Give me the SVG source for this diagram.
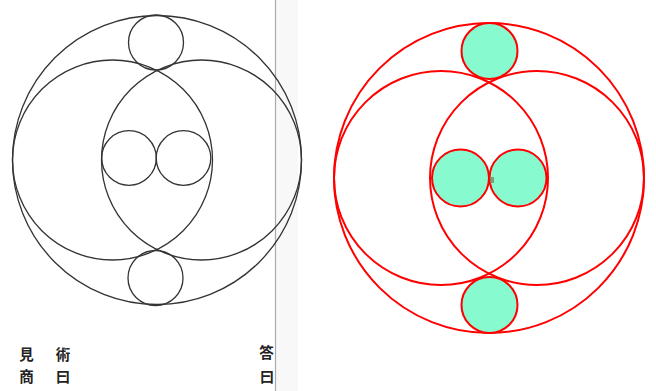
<svg xmlns="http://www.w3.org/2000/svg" width="656" height="391" viewBox="0 0 656 391">
<style>
.ink{fill:none;stroke:#333;stroke-width:1.3}
.red{fill:none;stroke:#ff0000;stroke-width:2}
.redf{fill:#88fad0;stroke:#ff0000;stroke-width:2}
.jp{font-family:"Noto Sans CJK JP","Noto Sans CJK SC",sans-serif;font-size:14.5px;font-weight:bold;fill:#222;text-anchor:middle}
</style>
<rect width="656" height="391" fill="#ffffff"/>
<g id="scan">
<rect x="276" y="0" width="22" height="391" fill="#f8f8f8"/>
<line x1="275.5" y1="0" x2="275.5" y2="391" stroke="#aaaaaa" stroke-width="1.2"/>
<g id="left-outer"><circle class="ink" cx="157" cy="160" r="144.5"/></g>
<g id="left-big-left"><circle class="ink" cx="112.5" cy="160" r="100"/></g>
<g id="left-big-right"><circle class="ink" cx="201.5" cy="160" r="100"/></g>
<g id="left-top"><circle class="ink" cx="156" cy="42.5" r="27.5"/></g>
<g id="left-bottom"><circle class="ink" cx="155.5" cy="278" r="27.5"/></g>
<g id="left-mid-left"><circle class="ink" cx="129" cy="158" r="27.3"/></g>
<g id="left-mid-right"><circle class="ink" cx="183.5" cy="158" r="27.3"/></g>
<g id="texts">
<text class="jp" x="26.5" y="360">見</text>
<text class="jp" x="26.5" y="381.5">商</text>
<text class="jp" x="63" y="360">術</text>
<text class="jp" x="63" y="381.5">曰</text>
<text class="jp" x="266.5" y="358">答</text>
<text class="jp" x="267" y="381.5">曰</text>
</g>
</g>
<g id="redraw">
<g id="outer"><circle class="red" cx="489" cy="178" r="155"/></g>
<g id="big-left"><circle class="red" cx="441" cy="178" r="107"/></g>
<g id="big-right"><circle class="red" cx="537" cy="178" r="107"/></g>
<g id="top-circle"><circle class="redf" cx="489.5" cy="51" r="28"/></g>
<g id="bottom-circle"><circle class="redf" cx="489.5" cy="305" r="28"/></g>
<g id="mid-left"><circle class="redf" cx="460.5" cy="178" r="28.5"/></g>
<g id="mid-right"><circle class="redf" cx="518" cy="178" r="28.5"/></g>
<g id="dot"><rect x="490" y="177" width="4" height="6" fill="#7a8a5c" opacity="0.8"/></g>
</g>
<g id="connectors"/>
</svg>
